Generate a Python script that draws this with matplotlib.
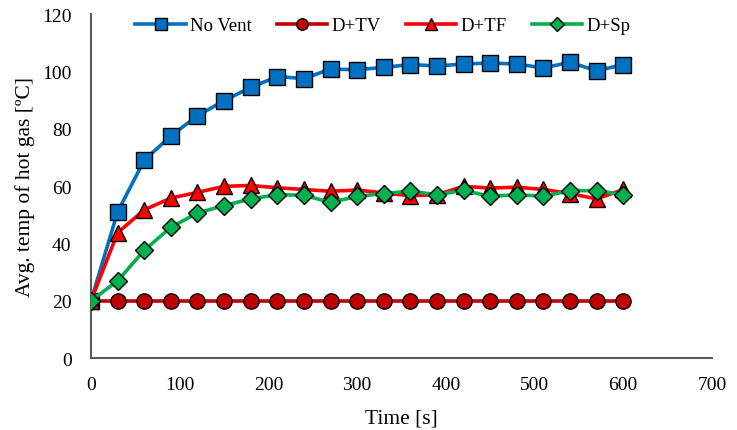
import numpy as np
from matplotlib import pyplot as plt

# dados
tempo = [0, 30, 60, 90, 120, 150, 180, 210, 240, 270, 300,
         330, 360, 390, 420, 450, 480, 510, 540, 570, 600]

no_vent = [20, 51, 69, 77.5, 84.5, 89.8, 94.4, 98.2, 97.5, 100.8, 100.6,
           101.4, 102.4, 101.9, 102.6, 102.9, 102.6, 101.2, 103.2, 100.2, 102.4]
d_tv = [20] * 21
d_tf = [20, 43.7, 51.7, 55.8, 57.8, 59.9, 60.2, 59.4, 58.8, 58.2, 58.6,
        57.6, 56.6, 57.0, 59.9, 59.3, 59.6, 58.8, 57.4, 55.5, 58.8]
d_sp = [20, 26.9, 37.6, 45.6, 50.6, 53.2, 55.5, 57.0, 56.8, 54.3, 56.4,
        57.4, 58.2, 57.0, 58.5, 56.4, 57.0, 56.4, 58.4, 58.4, 57.0]

nomes = ['No Vent', 'D+TV', 'D+TF', 'D+Sp']

plt.rcParams['font.family'] = 'Liberation Serif'

fig = plt.figure(figsize=(7.37, 4.31), dpi=100)
ax = fig.add_axes([0.1235, 0.167, 0.8425, 0.798])

# series: cor, marcador, tamanho
estilos = [('#0070C0', 's', 11.5), ('#C00000', 'o', 11), ('#FF0000', '^', 11.5), ('#00B050', 'D', 9)]
series = [no_vent, d_tv, d_tf, d_sp]

for serie, nome, (cor, mk, ms) in zip(series, nomes, estilos):
    ax.plot(tempo, serie, color=cor, lw=2.6, marker=mk, markersize=ms,
            markerfacecolor=cor, markeredgecolor='black', markeredgewidth=1.0,
            label=nome, zorder=3)

ax.set_xlim(0, 700)
ax.set_ylim(0, 120)
ax.set_xticks(np.arange(0, 701, 100))
ax.set_yticks(np.arange(0, 121, 20))
ax.tick_params(length=0, labelsize=14)
ax.tick_params(axis='x', pad=13)
ax.tick_params(axis='y', pad=14)

for s in ['top', 'right']:
    ax.spines[s].set_visible(False)
for s in ['left', 'bottom']:
    ax.spines[s].set_color('#595959')
    ax.spines[s].set_linewidth(1.5)

ax.set_xlabel('Time [s]', fontsize=15.5, labelpad=11)
ax.set_ylabel('Avg. temp of hot gas [ºC]', fontsize=15.5, labelpad=5)

ax.legend(loc='upper center', bbox_to_anchor=(0.47, 1.04), ncol=4, frameon=False,
          fontsize=13.5, handlelength=2.7, handletextpad=0.22, columnspacing=1.33,
          markerscale=0.75)

plt.savefig('out.png', dpi=100)
plt.close()
